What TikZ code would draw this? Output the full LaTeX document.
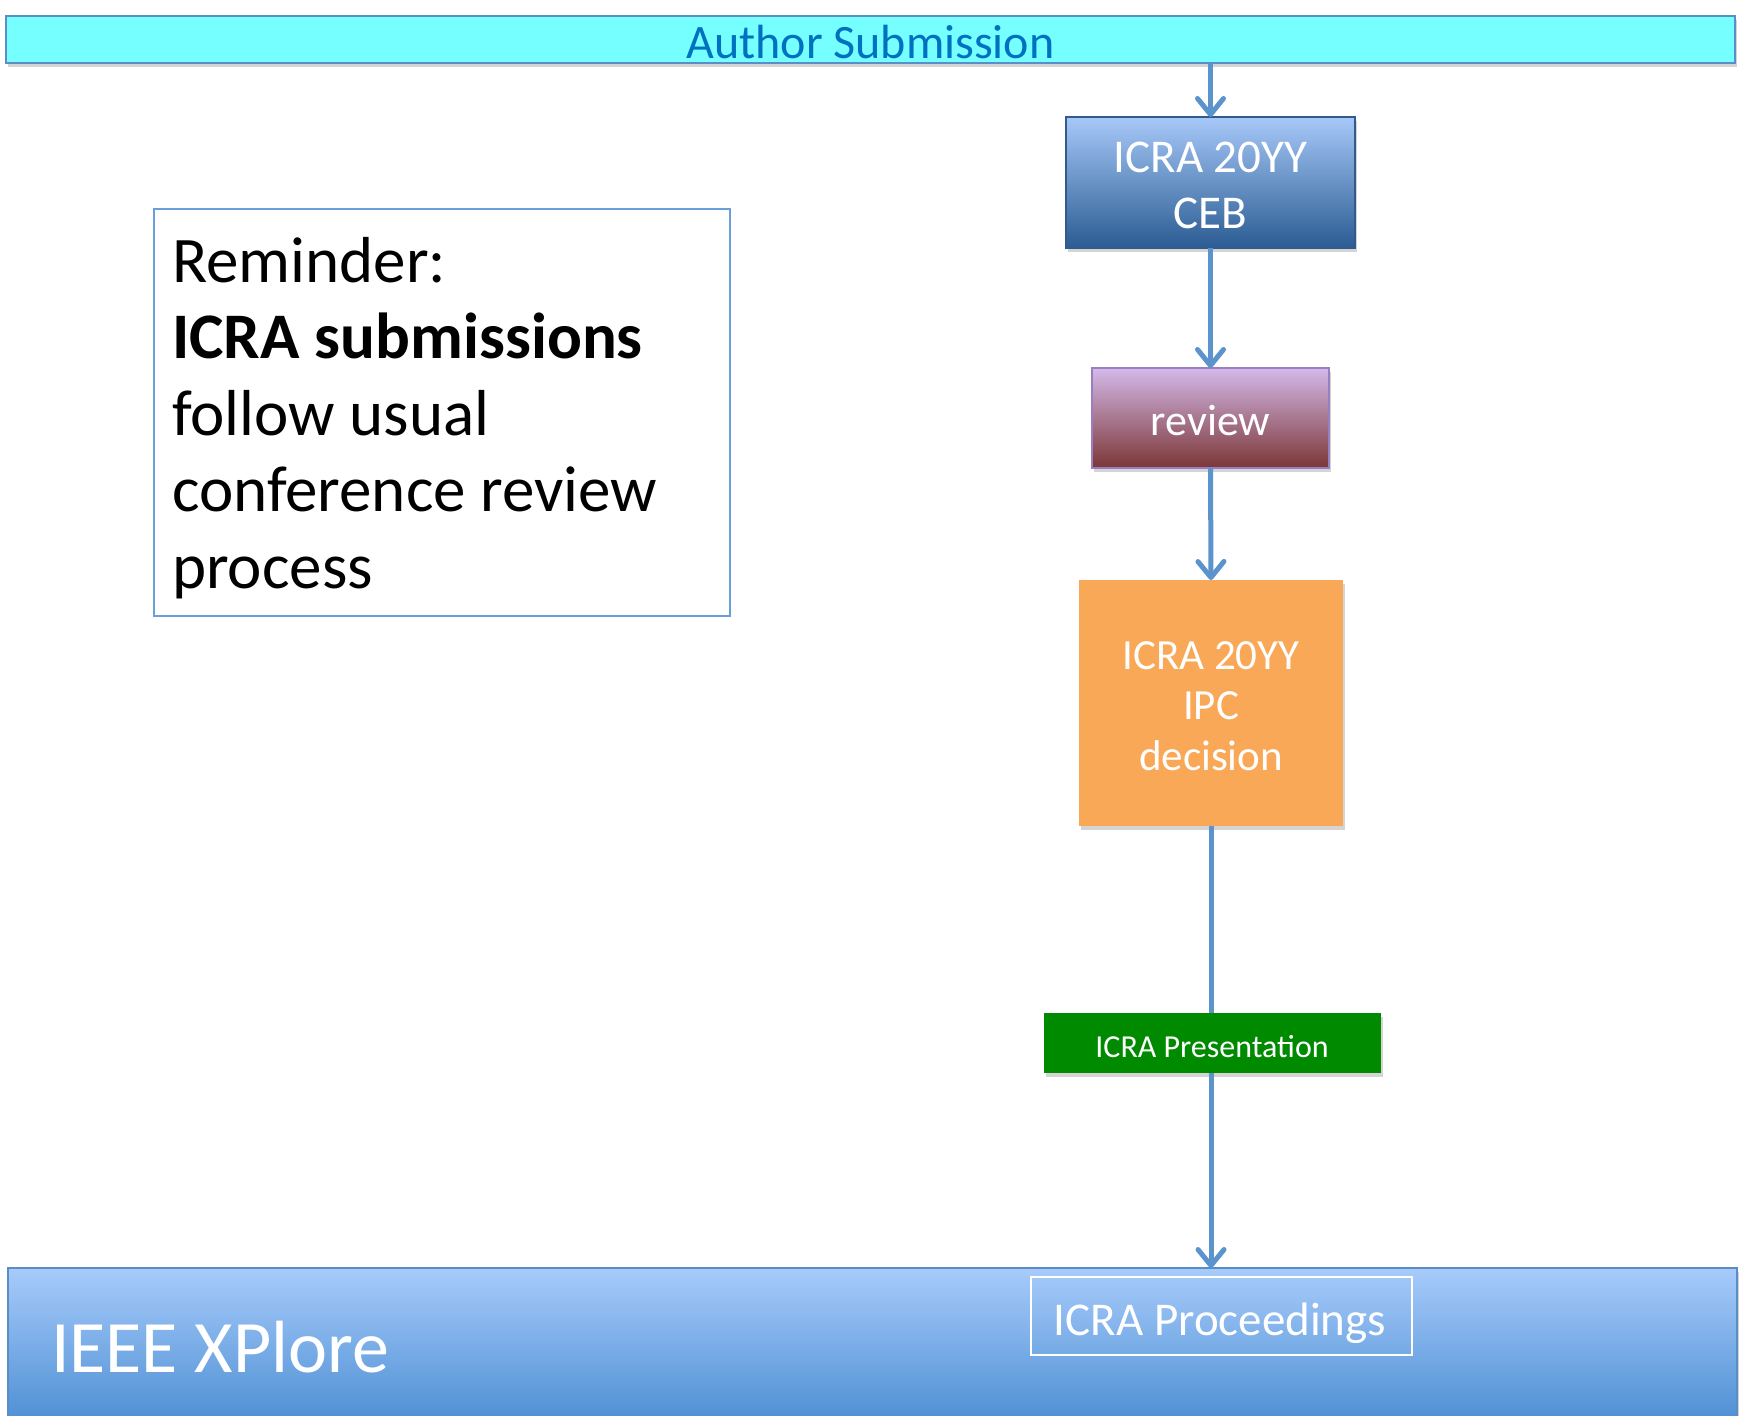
\documentclass[tikz,border=0pt]{standalone}
\usepackage{fontspec}
\setmainfont{Carlito}
\usetikzlibrary{arrows.meta,shadows}
\definecolor{cyanbar}{RGB}{117,255,255}
\definecolor{barline}{RGB}{91,141,201}
\definecolor{astext}{RGB}{0,112,192}
\definecolor{arrowblue}{RGB}{91,147,204}
\definecolor{cebtop}{RGB}{166,200,248}
\definecolor{cebbot}{RGB}{43,92,147}
\definecolor{cebline}{RGB}{50,90,140}
\definecolor{revtop}{RGB}{212,185,234}
\definecolor{revbot}{RGB}{124,54,54}
\definecolor{revline}{RGB}{154,126,194}
\definecolor{ipcfill}{RGB}{249,168,87}
\definecolor{presfill}{RGB}{0,138,0}
\definecolor{xtop}{RGB}{167,203,251}
\definecolor{xbot}{RGB}{80,145,212}
\definecolor{xline}{RGB}{90,141,198}
\definecolor{remline}{RGB}{106,159,218}
\begin{document}
\begin{tikzpicture}[x=1pt,y=-1pt,
  softshadow/.style={drop shadow={shadow xshift=2pt,shadow yshift=-4pt,opacity=0.3,fill=black!55}},
  box/.style={rectangle,inner sep=0pt,outer sep=0pt},
  wtxt/.style={inner sep=0pt,outer sep=0pt,text=white,align=center},
  flow/.style={draw=arrowblue,line width=5pt},
  flowarrow/.style={flow,-{Straight Barb[length=16pt,width=26pt,round]}}
]
\useasboundingbox[fill=white] (0,0) rectangle (1744,1415);
% boxes
\node[box,softshadow,draw=barline,line width=2pt,fill=cyanbar,minimum width=1729,minimum height=47] (top) at (870.5,39.5) {};
\node[box,softshadow,draw=cebline,line width=2pt,top color=cebtop,bottom color=cebbot,minimum width=289,minimum height=131] (ceb) at (1210.5,182.5) {};
\node[box,softshadow,draw=revline,line width=2pt,top color=revtop,bottom color=revbot,minimum width=237,minimum height=100] (rev) at (1210.5,418) {};
\node[box,softshadow,fill=ipcfill,minimum width=264,minimum height=246] (ipc) at (1211,703) {};
\node[box,softshadow,fill=presfill,minimum width=337,minimum height=60] (pres) at (1212.5,1043) {};
\node[box,softshadow,draw=xline,line width=2pt,top color=xtop,bottom color=xbot,minimum width=1729,minimum height=150] (xp) at (872.5,1343) {};
\node[box,draw=white,line width=2pt,minimum width=381,minimum height=78] (proc) at (1221.5,1316) {};
\node[box,draw=remline,line width=2pt,fill=white,minimum width=576,minimum height=407] (rem) at (442,412.5) {};
% texts
\node[inner sep=0pt,text=astext,font=\fontsize{48}{58}\selectfont,anchor=base] (ast) at (870.5,59) {Author Submission};
\node[wtxt,font=\fontsize{47}{56}\selectfont,anchor=base] (cebt) at (1210.5,229) {ICRA 20YY\\CEB};
\node[wtxt,font=\fontsize{44}{52}\selectfont,anchor=base] (revt) at (1210.5,435) {review};
\node[wtxt,font=\fontsize{43}{50.3}\selectfont,anchor=base] (ipct) at (1211,770) {ICRA 20YY\\IPC\\decision};
\node[wtxt,font=\fontsize{32}{38}\selectfont,anchor=base] (prest) at (1212,1057) {ICRA Presentation};
\node[wtxt,font=\fontsize{47}{56}\selectfont,anchor=base] (proct) at (1220,1335) {ICRA Proceedings};
\node[wtxt,font=\fontsize{74}{88}\selectfont,anchor=base west] (xpt) at (51,1372) {IEEE XPlore};
\node[inner sep=0pt,align=left,font=\fontsize{65}{76.5}\selectfont,anchor=base west] (remt) at (172,588) {Reminder:\\\textbf{ICRA submissions}\\follow usual\\conference review\\process};
% connectors
\draw[flowarrow] (ceb.north |- top.south) -- (ceb.north);
\draw[flowarrow] (ceb.south) -- (rev.north);
\draw[flowarrow] (rev.south) -- (ipc.north);
\draw[flow] (ipc.south) -- (pres.north -| ipc.south);
\draw[flowarrow] (pres.south -| ipc.south) -- (xp.north -| ipc.south);
\end{tikzpicture}
\end{document}
